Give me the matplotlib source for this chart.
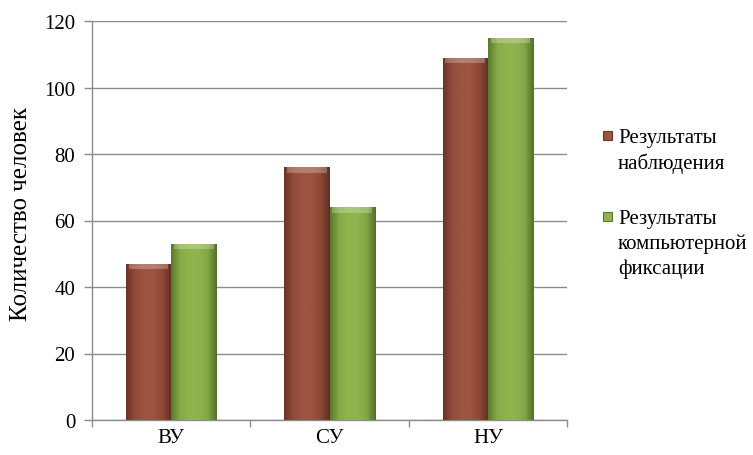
import matplotlib
matplotlib.use("Agg")
import matplotlib.pyplot as plt
import numpy as np
from matplotlib.colors import LinearSegmentedColormap

categories = ["ВУ", "СУ", "НУ"]
observed = [47, 76, 109]
computer = [53, 64, 115]
series_labels = [["Результаты", "наблюдения"],
                 ["Результаты", "компьютерной", "фиксации"]]
y_ticks = [0, 20, 40, 60, 80, 100, 120]

plt.rcParams['font.family'] = 'serif'
plt.rcParams['font.serif'] = ['Liberation Serif', 'DejaVu Serif']

red_cmap = LinearSegmentedColormap.from_list(
    "r", ["#6a3526", "#934b3a", "#9d5442", "#9d5442", "#8e4837", "#5e2f22"])
green_cmap = LinearSegmentedColormap.from_list(
    "g", ["#5d7a2c", "#86ab47", "#8fb44e", "#8fb44e", "#83a746", "#55712a"])
face = ["#9d5442", "#8fb44e"]


def shade_bars(ax, bars, cmap):
    grad = np.linspace(0, 1, 64).reshape(1, -1)
    for b in bars:
        x0, y0 = b.get_x(), b.get_y()
        w, h = b.get_width(), b.get_height()
        im = ax.imshow(grad, cmap=cmap, aspect='auto', extent=[x0, x0 + w, y0, y0 + h],
                       zorder=b.get_zorder() + 0.1, interpolation='bilinear')
        im.set_clip_path(b)
        # light bevel on top
        ax.add_patch(plt.Rectangle((x0 + w * 0.06, y0 + h - 1.6), w * 0.88, 1.6,
                                   color='white', alpha=0.25, lw=0,
                                   zorder=b.get_zorder() + 0.2))


W, H = 753, 456
fig = plt.figure(figsize=(W / 100, H / 100), dpi=100)
ax = fig.add_axes([92 / W, 35 / H, 475 / W, 399 / H])

x = np.arange(len(categories))
w = 0.285
b1 = ax.bar(x - w / 2, observed, w, color=face[0], zorder=3)
b2 = ax.bar(x + w / 2, computer, w, color=face[1], zorder=3)
shade_bars(ax, b1, red_cmap)
shade_bars(ax, b2, green_cmap)

ax.set_xlim(-0.5, len(categories) - 0.5)
ax.set_ylim(0, 120)
ax.set_yticks(y_ticks)
ax.yaxis.grid(True, color="#8c8c8c", lw=1)
ax.set_axisbelow(True)

ax.set_xticks(x)
ax.set_xticklabels(categories, fontsize=15)
ax.set_xticks(np.arange(len(categories) + 1) - 0.5, minor=True)
ax.tick_params(axis='x', which='major', length=0, pad=6)
ax.tick_params(axis='x', which='minor', length=5, color="#8c8c8c", width=1)
ax.tick_params(axis='y', labelsize=15, length=6, color="#8c8c8c", width=1, pad=6)

for s in ['top', 'right']:
    ax.spines[s].set_visible(False)
for s in ['left', 'bottom']:
    ax.spines[s].set_color("#8c8c8c")
    ax.spines[s].set_linewidth(1)

ax.set_ylabel("Количество человек", fontsize=18)
ax.yaxis.set_label_coords(-0.126, 0.52)

# legend: square marker next to the first line of each label
for lines, col, cmap, ytop in zip(series_labels, face, [red_cmap, green_cmap], [139, 220]):
    fig.patches.append(plt.Rectangle((603 / W, 1 - (ytop + 2) / H), 9 / W, 9 / H,
                                     transform=fig.transFigure, facecolor=col,
                                     edgecolor=cmap(0.0), lw=0.8))
    for i, line in enumerate(lines):
        fig.text(618 / W, 1 - (ytop + 24.5 * i) / H, line, fontsize=15,
                 va='center', ha='left')

fig.savefig("out.png", dpi=100)
